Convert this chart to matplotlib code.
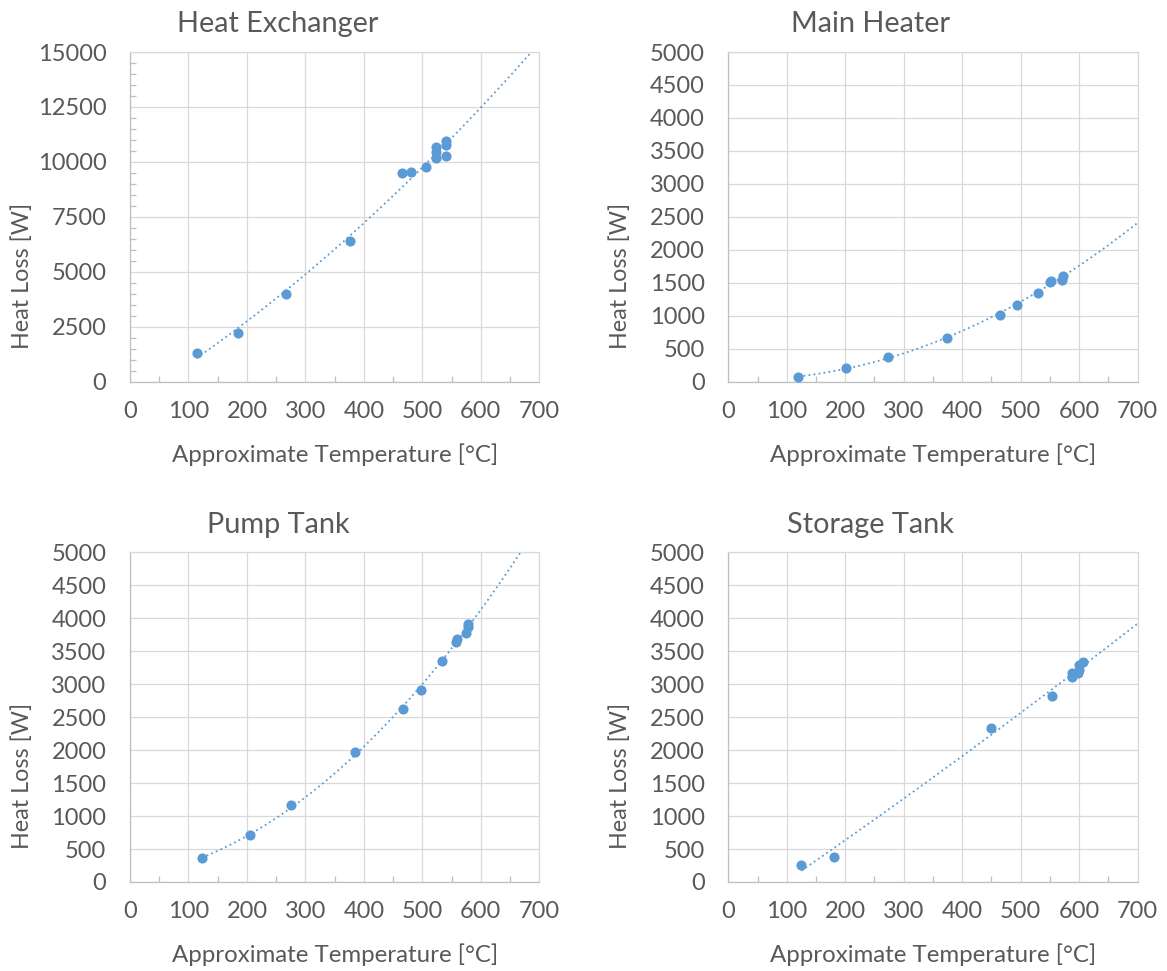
import matplotlib
matplotlib.use("Agg")
import matplotlib.pyplot as plt
from matplotlib.ticker import MultipleLocator
import numpy as np

plt.rcParams['font.family'] = ['Lato', 'DejaVu Sans']

# measured heat loss vs. approximate temperature for each component
he_temp = [114, 185, 267, 376, 466, 480, 507, 524, 524, 524, 541, 541, 541]
he_loss = [1310, 2220, 3990, 6420, 9500, 9540, 9750, 10170, 10430, 10690, 10290, 10750, 10960]

mh_temp = [120, 202, 273, 374, 464, 494, 530, 551, 552, 571, 572]
mh_loss = [66, 207, 380, 668, 1017, 1164, 1346, 1508, 1530, 1549, 1609]

pt_temp = [123, 205, 276, 385, 467, 497, 534, 557, 559, 575, 578, 578]
pt_loss = [359, 709, 1169, 1964, 2621, 2910, 3355, 3644, 3680, 3781, 3872, 3912]

st_temp = [125, 180, 450, 553, 587, 588, 598, 599, 600, 607]
st_loss = [263, 380, 2343, 2824, 3113, 3163, 3173, 3213, 3294, 3335]

blue = '#5B9BD5'
text_col = '#595959'
grid_col = '#D9D9D9'
axis_col = '#BFBFBF'

W, H = 1167, 971
fig = plt.figure(figsize=(W / 100, H / 100), dpi=100)


def panel(left, top, title, temp, loss, ymax, ystep, yminor=None, title_dx=148):
    # left/top of the plot area in pixels
    pw, ph = 409.3, 329.7
    ax = fig.add_axes([left / W, 1 - (top + ph) / H, pw / W, ph / H])
    temp = np.array(temp, float)
    loss = np.array(loss, float)
    ax.plot(temp, loss, 'o', color=blue, ms=7.3, mec='none', zorder=3)

    # 2nd order trend line, forecast 150 forward
    c = np.polyfit(temp, loss, 2)
    xs = np.linspace(temp.min(), temp.max() + 150, 300)
    ax.plot(xs, np.polyval(c, xs), color=blue, lw=1.3, ls=(0, (1, 1.8)), zorder=2)

    ax.set_xlim(0, 700)
    ax.set_ylim(0, ymax)
    ax.xaxis.set_major_locator(MultipleLocator(100))
    ax.xaxis.set_minor_locator(MultipleLocator(50))
    ax.yaxis.set_major_locator(MultipleLocator(ystep))
    if yminor:
        ax.yaxis.set_minor_locator(MultipleLocator(yminor))
    else:
        ax.yaxis.set_minor_locator(plt.NullLocator())
    ax.grid(True, which='major', color=grid_col, lw=0.9)
    ax.set_axisbelow(True)
    for s in ['top', 'right']:
        ax.spines[s].set_color(grid_col)
        ax.spines[s].set_linewidth(0.9)
    for s in ['left', 'bottom']:
        ax.spines[s].set_color(axis_col)
        ax.spines[s].set_linewidth(0.9)
    ax.tick_params(which='major', length=0, labelsize=17, labelcolor=text_col)
    ax.tick_params(axis='y', which='major', pad=17)
    ax.tick_params(axis='x', which='major', pad=14)
    ax.tick_params(which='minor', direction='in', length=4.5, width=0.9, color=axis_col)

    cx = left + pw / 2
    fig.text(cx / W, 1 - (top + 409.5) / H, 'Approximate Temperature [°C]',
             ha='center', va='baseline', fontsize=17.3, color=text_col)
    fig.text((left - 108) / W, 1 - (top + 223.5) / H, 'Heat Loss [W]',
             ha='center', va='center', rotation=90, fontsize=16.8, color=text_col)
    fig.text((left + title_dx) / W, 1 - (top - 19.7) / H, title,
             ha='center', va='baseline', fontsize=20.8, color=text_col)
    return ax


panel(130, 52, 'Heat Exchanger', he_temp, he_loss, 15000, 2500, 500)
panel(728.3, 52, 'Main Heater', mh_temp, mh_loss, 5000, 500, title_dx=142)
panel(130, 552.3, 'Pump Tank', pt_temp, pt_loss, 5000, 500)
panel(728.3, 552.3, 'Storage Tank', st_temp, st_loss, 5000, 500, title_dx=142)

fig.savefig('out.png', dpi=100, facecolor='white')
